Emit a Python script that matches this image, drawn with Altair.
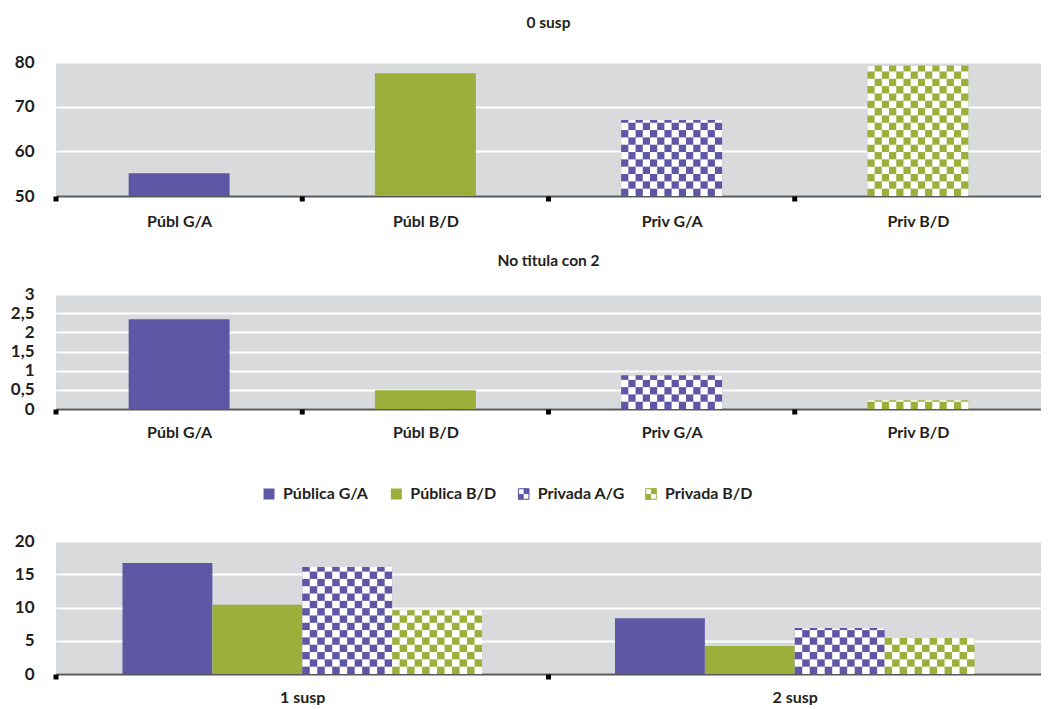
import altair as alt
import pandas as pd

# ---------------- data ----------------
cats = ["Públ G/A", "Públ B/D", "Priv G/A", "Priv B/D"]
vals_0susp = [55.1, 77.5, 67.0, 79.2]
vals_notitula = [2.34, 0.49, 0.88, 0.23]

groups = ["1 susp", "2 susp"]
series = ["Pública G/A", "Pública B/D", "Privada A/G", "Privada B/D"]
pub_ga = [16.7, 8.4]
pub_bd = [10.4, 4.2]
priv_ag = [16.1, 6.9]
priv_bd = [9.6, 5.4]

# ---------------- style ----------------
PURPLE = "#5E57A5"
GREEN = "#9CAF3B"
BG = "#D9DADC"
TEXT = "#231F20"
AXIS = "#58595B"
FONT = "Lato"
W = 985


def make_panel(df, labels, n_slots, group_w, n_sub, n_cols, base, top, cell_h,
               yvals, height, color_domain, title=None, title_offset=20,
               label_pad=16):
    bw = group_w / n_sub
    cw = bw / n_cols
    label_arr = "[" + ",".join("'" + l + "'" for l in labels) + "]"
    xscale = alt.Scale(domain=[0, n_slots], nice=False, zero=False)
    yscale = alt.Scale(domain=[base, top], nice=False, zero=False)
    cscale = alt.Scale(domain=color_domain, range=[PURPLE, GREEN, PURPLE, GREEN])

    basec = alt.Chart(df).transform_calculate(
        xl=f"datum.slot + 0.5 - {group_w}/2 + datum.sub*{bw}",
        base=f"{base}",
    ).transform_calculate(xr=f"datum.xl + {bw}")

    xaxis = alt.Axis(
        values=[i + 0.5 for i in range(n_slots)],
        labelExpr=f"{label_arr}[floor(datum.value)]",
        ticks=False, grid=False, domain=True, domainColor=AXIS, domainWidth=2,
        labelFont=FONT, labelFontSize=16, labelFontWeight="bold",
        labelColor=TEXT, labelPadding=label_pad, title=None,
    )
    yaxis = alt.Axis(
        values=yvals, labelExpr="replace(format(datum.value, '~g'), '.', ',')",
        ticks=False, domain=False, grid=True, gridColor="white", gridWidth=2,
        labelFont=FONT, labelFontSize=17, labelFontWeight="bold",
        labelColor=TEXT, labelPadding=22, title=None,
    )

    bars = basec.mark_rect().encode(
        x=alt.X("xl:Q", scale=xscale, axis=xaxis, title=None),
        x2="xr:Q",
        y=alt.Y("value:Q", scale=yscale, axis=yaxis, title=None),
        y2="base:Q",
        color=alt.Color("series:N", scale=cscale, legend=None),
    )

    cells = basec.transform_filter("datum.checker").transform_calculate(
        rows=f"sequence(0, ceil((datum.value - {base})/{cell_h}))",
        cols=f"sequence(0, {n_cols})",
    ).transform_flatten(["rows"]).transform_flatten(["cols"]).transform_filter(
        "(datum.rows + datum.cols) % 2 == 1"
    ).transform_calculate(
        cx=f"datum.xl + datum.cols*{cw}",
        cy=f"{base} + datum.rows*{cell_h}",
    ).transform_calculate(
        cx2=f"datum.cx + {cw}",
        cy2=f"min(datum.cy + {cell_h}, datum.value)",
    ).mark_rect(color="white").encode(
        x=alt.X("cx:Q", scale=xscale, axis=xaxis, title=None),
        x2="cx2:Q",
        y=alt.Y("cy:Q", scale=yscale, axis=yaxis, title=None),
        y2="cy2:Q",
    )

    ticks = alt.Chart(pd.DataFrame({"b": list(range(n_slots)),
                                    "yb": [base] * n_slots})).mark_square(
        size=25, color="black", opacity=1, yOffset=3
    ).encode(
        x=alt.X("b:Q", scale=xscale, axis=xaxis, title=None),
        y=alt.Y("yb:Q", scale=yscale, axis=yaxis, title=None),
    )

    props = dict(width=W, height=height,
                 view=alt.ViewBackground(fill=BG, strokeWidth=0))
    if title:
        props["title"] = alt.TitleParams(
            text=title, font=FONT, fontSize=15.5, fontWeight="bold", color=TEXT,
            anchor="middle", frame="group", offset=title_offset)
    return alt.layer(bars, cells, ticks).properties(**props)


# panel 1 & 2 tables
top_df = pd.DataFrame({
    "series": cats, "slot": list(range(len(cats))), "sub": [0] * len(cats),
    "value": vals_0susp, "checker": [c.startswith("Priv") for c in cats]})
mid_df = pd.DataFrame({
    "series": cats, "slot": list(range(len(cats))), "sub": [0] * len(cats),
    "value": vals_notitula, "checker": [c.startswith("Priv") for c in cats]})

rows = []
for si, (s, vals) in enumerate(zip(series, [pub_ga, pub_bd, priv_ag, priv_bd])):
    for gi, g in enumerate(groups):
        rows.append({"series": s, "slot": gi, "sub": si, "value": vals[gi],
                     "checker": s.startswith("Priv")})
bot_df = pd.DataFrame(rows)

p1 = make_panel(top_df, cats, 4, 0.41, 1, 14, 50, 80, 1.64, [50, 60, 70, 80],
                134, cats, title="0 susp", title_offset=22, label_pad=17)
p2 = make_panel(mid_df, cats, 4, 0.41, 1, 14, 0, 3, 0.19,
                [0, 0.5, 1, 1.5, 2, 2.5, 3], 115, cats,
                title="No titula con 2", title_offset=16, label_pad=15)
p3 = make_panel(bot_df, groups, 2, 0.73, 4, 12, 0, 20, 1.1,
                [0, 5, 10, 15, 20], 133, series, label_pad=15)

# ---------------- custom legend ----------------
leg_df = pd.DataFrame({"series": series,
                       "checker": [s.startswith("Priv") for s in series]})
lx = alt.X("series:N", sort=series,
           scale=alt.Scale(type="point", domain=series, range=[213, 595], padding=0),
           axis=None)
lcol = alt.Color("series:N", scale=alt.Scale(domain=series,
                 range=[PURPLE, GREEN, PURPLE, GREEN]), legend=None)
YO = 8
legb = alt.Chart(leg_df)
sw = legb.mark_square(size=121, opacity=1, yOffset=YO).encode(x=lx, color=lcol)
q1 = legb.transform_filter("datum.checker").mark_square(
    size=30, opacity=1, color="white", xOffset=-2.75, yOffset=YO - 2.75).encode(x=lx)
q2 = legb.transform_filter("datum.checker").mark_square(
    size=30, opacity=1, color="white", xOffset=2.75, yOffset=YO + 2.75).encode(x=lx)
ol = legb.transform_filter("datum.checker").mark_square(
    size=110, filled=False, strokeWidth=1, opacity=1, yOffset=YO).encode(
    x=lx, stroke=alt.Stroke("series:N", scale=alt.Scale(domain=series,
                            range=[PURPLE, GREEN, PURPLE, GREEN]), legend=None))
txt = legb.mark_text(align="left", baseline="middle", xOffset=14, yOffset=YO,
                     font=FONT, fontSize=16, fontWeight="bold", color=TEXT).encode(
    x=lx, text="series:N")
legend = alt.layer(sw, q1, q2, ol, txt).properties(
    width=W, height=44, view=alt.ViewBackground(fill="transparent", strokeWidth=0))

chart = alt.vconcat(p1, p2, legend, p3, spacing=24).properties(
    padding={"left": 2, "right": 0, "top": 7, "bottom": 0}
).configure_view(strokeWidth=0)

chart.save("out.html", embed_options={"renderer": "svg", "actions": False})
